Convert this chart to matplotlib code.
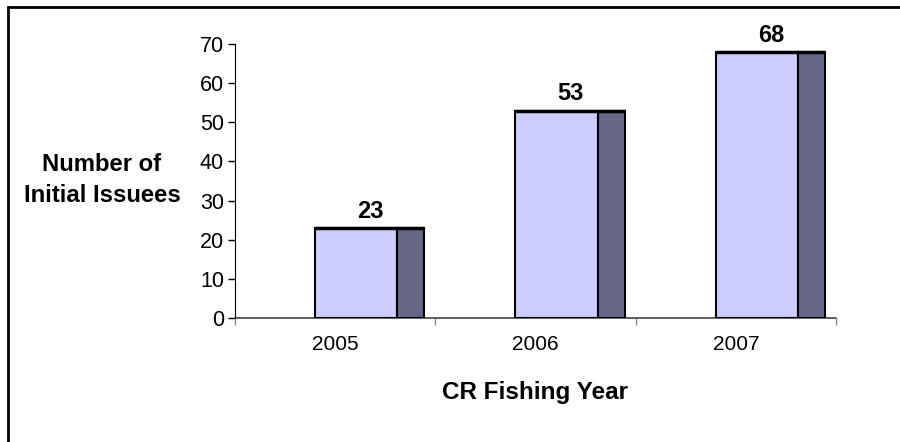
import matplotlib.pyplot as plt
import matplotlib.patches as patches
import numpy as np

plt.rcParams['font.family'] = ['Liberation Sans', 'DejaVu Sans']

# chart data
years = ['2005', '2006', '2007']
issuees = [23, 53, 68]

front_color = '#CCCCFF'
side_color = '#666688'

fig = plt.figure(figsize=(9, 4.42), dpi=100)
ax = fig.add_axes([235 / 900, 1 - 318 / 442, 601 / 900, 274 / 442])

x = np.arange(len(years))
# pseudo-3D bar: light front face plus a dark side panel
ax.bar(x - 0.10, issuees, width=0.41, align='edge', color=front_color,
       edgecolor='black', linewidth=1.5, zorder=3)
ax.bar(x + 0.31, issuees, width=0.135, align='edge', color=side_color,
       edgecolor='black', linewidth=1.5, zorder=3)
ax.hlines(issuees, x - 0.10, x + 0.445, color='black', linewidth=2.5, zorder=4)

for xi, v in zip(x, issuees):
    ax.text(xi + 0.175, v + 1.3, str(v), ha='center', va='bottom',
            fontsize=17, fontweight='bold')

ax.set_xlim(-0.5, 2.5)
ax.set_ylim(0, 70)
ax.set_yticks(range(0, 71, 10))
ax.tick_params(axis='y', direction='out', length=5, width=1, labelsize=15.5, pad=3)

# category labels centred, tick marks on category boundaries
ax.set_xticks(x)
ax.set_xticklabels(years, fontsize=15)
ax.tick_params(axis='x', which='major', length=0, pad=12)
ax.set_xticks(np.arange(-0.5, 3.0, 1.0), minor=True)
ax.tick_params(axis='x', which='minor', direction='out', length=5, width=1,
               color='#888888')

for s in ['top', 'right']:
    ax.spines[s].set_visible(False)
ax.spines['left'].set_color('black')
ax.spines['bottom'].set_color('#444444')
ax.spines['bottom'].set_linewidth(1.2)

fig.text(535 / 900, 1 - 392 / 442, 'CR Fishing Year', ha='center', va='center',
         fontsize=17.5, fontweight='bold')
fig.text(102 / 900, 1 - 180 / 442, 'Number of\nInitial Issuees', ha='center',
         va='center', fontsize=17.2, fontweight='bold', linespacing=1.45)

# outer chart border (right/bottom edges run off the picture)
fig.patches.append(patches.Rectangle((8 / 900, -0.1), 1.2, 1 - 7 / 442 + 0.1,
                                     transform=fig.transFigure, fill=False,
                                     edgecolor='black', linewidth=2))

fig.savefig('out.png', dpi=100)
